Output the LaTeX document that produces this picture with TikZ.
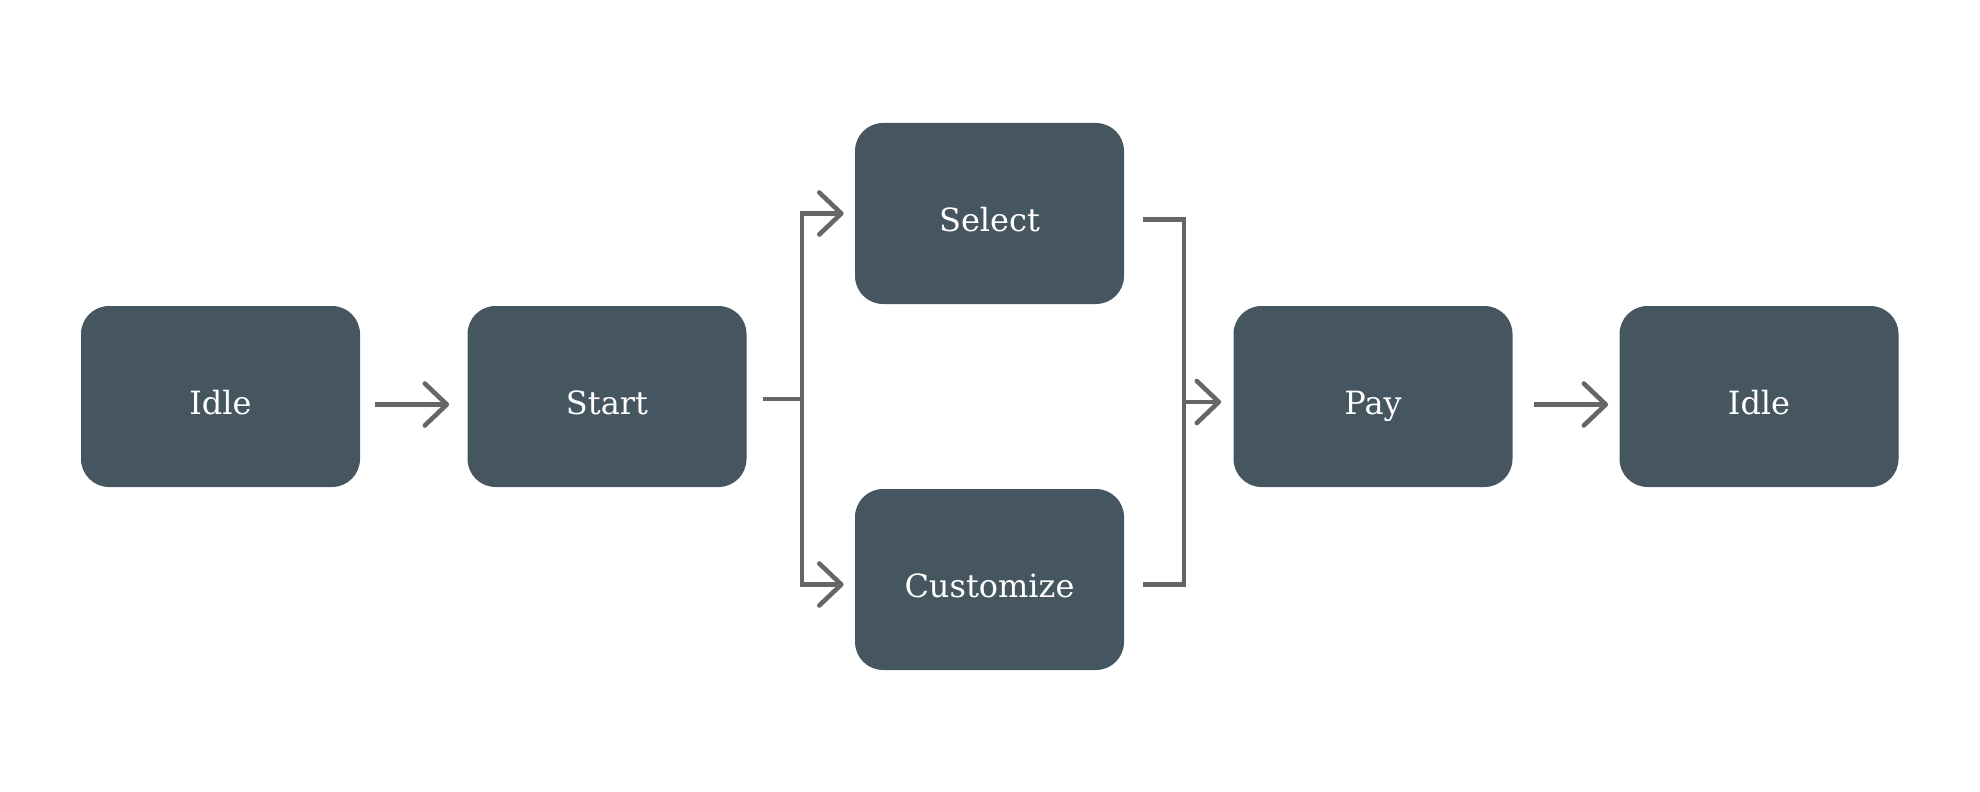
\documentclass[tikz,border=0pt]{standalone}
\usepackage{fontspec}
\setmainfont{DejaVu Serif}
\usetikzlibrary{arrows.meta, positioning}
\definecolor{slatebox}{HTML}{465661}
\definecolor{linegray}{HTML}{666666}

\begin{document}
\begin{tikzpicture}[
    x=0.5pt, y=-0.5pt,
    state/.style={fill=slatebox, rounded corners=14pt, minimum width=139.5pt,
                  minimum height=90.5pt, inner sep=0pt, text=white,
                  text height=17.5pt, text depth=0pt,
                  font=\fontsize{16}{19}\selectfont},
    wire/.style={draw=linegray, line width=2.3pt, line join=miter},
    arr/.style={wire, -{Straight Barb[length=11pt, width=21pt, line cap=round, line join=round]}},
  ]
    % === canvas ===
    \useasboundingbox (0,0) rectangle (1980,792);

    % === main line ===
    \node[state] (idle) at (220.5, 396.5) {Idle};
    \node[state] (start) at (607, 396.5) {Start};

    % === parallel branch ===
    \node[state, minimum width=134.5pt] (sel) at (989.5, 213.5) {Select};
    \node[state, minimum width=134.5pt] (cus) at (989.5, 579.5) {Customize};

    % === after the branch ===
    \node[state] (pay) at (1373, 396.5) {Pay};
    \node[state] (idle2) at (1759, 396.5) {Idle};

    % fork and join points
    \coordinate (fork) at (802, 399);
    \coordinate (join) at (1184, 402);

    % === arrows: straight ===
    \draw[arr] ([xshift=7.5pt, yshift=-4pt]idle.east) -- ([xshift=-9pt, yshift=-4pt]start.west);
    \draw[arr] ([xshift=10.5pt, yshift=-4pt]pay.east) -- ([xshift=-5.5pt, yshift=-4pt]idle2.west);

    % === arrows: fork ===
    \draw[wire] ([xshift=8pt]start.east |- fork) -- (fork);
    \draw[arr] (fork) |- ([xshift=-5.5pt]sel.west);
    \draw[arr] (fork) |- ([xshift=-5.5pt, yshift=-2.5pt]cus.west);

    % === arrows: join ===
    \draw[wire] ([xshift=9.5pt, yshift=-3pt]sel.east) -| (join)
      |- ([xshift=9.5pt, yshift=-2.5pt]cus.east);
    \draw[arr] (join) -- ([xshift=-6pt]pay.west |- join);
  \end{tikzpicture}
\end{document}
